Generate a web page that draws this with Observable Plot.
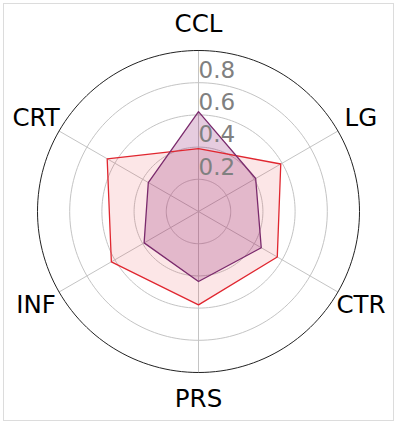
<!DOCTYPE html>
<html>
<head>
<meta charset="utf-8">
<script src="https://cdn.jsdelivr.net/npm/d3@7"></script>
<script src="https://cdn.jsdelivr.net/npm/@observablehq/plot@0.6"></script>
<style>
  html, body { margin: 0; padding: 0; background: #fff; }
  #chart svg { display: block; }
</style>
</head>
<body>
<div id="chart"></div>
<script>
const categories = ["CCL", "LG", "CTR", "PRS", "INF", "CRT"];
const seriesRed = [0.39, 0.59, 0.565, 0.58, 0.625, 0.655];
const seriesPurple = [0.62, 0.41, 0.45, 0.435, 0.39, 0.36];
const tickValues = [0.2, 0.4, 0.6, 0.8];
const tickLabels = ["0.2", "0.4", "0.6", "0.8"];
const rMax = 1.0;

const angle = i => (i * 2 * Math.PI) / categories.length;
const pt = (i, v) => ({x: v * Math.sin(angle(i)), y: v * Math.cos(angle(i))});

const redPts = seriesRed.map((v, i) => ({...pt(i, v), cat: categories[i]}));
const purplePts = seriesPurple.map((v, i) => ({...pt(i, v), cat: categories[i]}));

const circle = r => d3.range(0, 360, 2).map(deg => ({
  x: r * Math.sin(deg * Math.PI / 180),
  y: r * Math.cos(deg * Math.PI / 180),
  r
}));
const gridPts = tickValues.flatMap(r => circle(r));
const outerPts = circle(rMax);
const spokes = categories.map((c, i) => ({...pt(i, rMax), cat: c}));
const labelPts = categories.map((c, i) => ({...pt(i, 1.165), cat: c}));
const tickPts = tickValues.map((v, i) => ({x: 0, y: v, label: tickLabels[i]}));

const W = 396, H = 423, cx = 198, cy = 211, R = 161;

const chart = Plot.plot({
  width: W,
  height: H,
  margin: 0,
  x: {domain: [-cx / R, (W - cx) / R], range: [0, W], axis: null},
  y: {domain: [-(H - cy) / R, cy / R], range: [H, 0], axis: null},
  style: {fontFamily: "DejaVu Sans, sans-serif", background: "#fff"},
  marks: [
    Plot.frame({inset: 3, stroke: "#dcdcdc"}),
    Plot.line(gridPts, {x: "x", y: "y", z: "r", curve: "linear-closed", stroke: "#c4c4c4", strokeWidth: 1}),
    Plot.link(spokes, {x1: 0, y1: 0, x2: "x", y2: "y", stroke: "#c4c4c4", strokeWidth: 1}),
    Plot.line(outerPts, {x: "x", y: "y", curve: "linear-closed", stroke: "#222", strokeWidth: 1}),
    Plot.line(redPts, {x: "x", y: "y", curve: "linear-closed", fill: "#e8323c", fillOpacity: 0.12, stroke: "none"}),
    Plot.line(purplePts, {x: "x", y: "y", curve: "linear-closed", fill: "#800060", fillOpacity: 0.2, stroke: "none"}),
    Plot.line(redPts, {x: "x", y: "y", curve: "linear-closed", stroke: "#e0262f", strokeWidth: 1.3}),
    Plot.line(purplePts, {x: "x", y: "y", curve: "linear-closed", stroke: "#7a2a6c", strokeWidth: 1.3}),
    Plot.text(tickPts, {x: "x", y: "y", text: "label", textAnchor: "start", dx: 0, dy: -12, fontSize: 23, fill: "#808080"}),
    Plot.text(labelPts, {x: "x", y: "y", text: "cat", fontSize: 24.5, fill: "#000"})
  ]
});
document.getElementById("chart").appendChild(chart);
</script>
</body>
</html>
